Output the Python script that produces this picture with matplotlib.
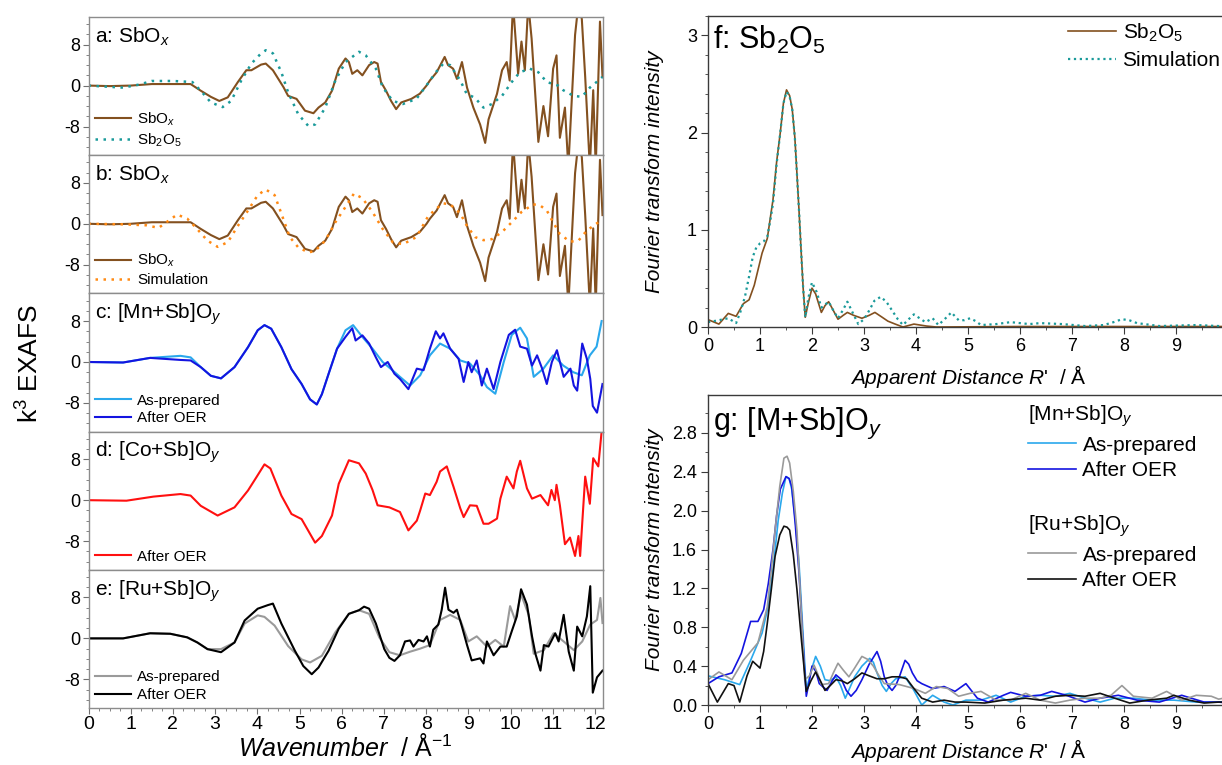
import numpy as np
import matplotlib
matplotlib.use('Agg')
import matplotlib.pyplot as plt
from matplotlib.ticker import MultipleLocator, FormatStrFormatter

plt.rcParams['font.family'] = ['Liberation Sans', 'DejaVu Sans']
plt.rcParams['mathtext.fontset'] = 'custom'
plt.rcParams['mathtext.rm'] = 'Liberation Sans'
plt.rcParams['mathtext.it'] = 'Liberation Sans:italic'
plt.rcParams['mathtext.bf'] = 'Liberation Sans:bold'
plt.rcParams['axes.unicode_minus'] = False

# ---- k-space EXAFS (left panels) ----
k_sbox = [0, 0.5, 1.0, 1.5, 2.0, 2.42, 2.66, 2.9, 3.1, 3.3, 3.54, 3.74, 3.86, 4.09, 4.2, 4.37,
          4.62, 4.73, 4.93, 5.13, 5.33, 5.45, 5.61, 5.77, 5.93, 6.09, 6.17, 6.25, 6.37, 6.49,
          6.65, 6.77, 6.85, 6.93, 7.05, 7.17, 7.29, 7.41, 7.65, 7.85, 8.01, 8.09, 8.25, 8.44,
          8.52, 8.64, 8.73, 8.85, 8.97, 9.12, 9.28, 9.40, 9.48, 9.56, 9.68, 9.80, 9.91, 9.98,
          10.06, 10.18, 10.26, 10.34, 10.42, 10.50, 10.66, 10.78, 10.89, 11.01, 11.09, 11.17,
          11.29, 11.37, 11.53, 11.61, 11.69, 11.77, 11.88, 11.96, 12.02, 12.12, 12.18]
chi_sbox = [0, -0.1, 0, 0.3, 0.3, 0.3, -1.0, -2.2, -3.0, -2.3, 0.7, 3.0, 3.0, 4.1, 4.3, 3.0,
            -0.3, -2.0, -2.6, -4.9, -5.4, -4.3, -3.3, -1.0, 3.3, 5.3, 4.6, 2.3, 3.0, 2.0,
            4.0, 4.6, 4.3, 0.7, -1.0, -3.0, -4.6, -3.3, -2.6, -1.6, 0.0, 1.0, 2.6, 5.6,
            4.0, 3.3, 1.3, 4.6, -0.4, -4.3, -7.6, -11.2, -6.6, -4.6, -1.6, 3.0, 4.6, 1.0,
            16, 2.3, 8.6, 3.0, 16, 9.2, -11.0, -4.0, -9.9, 3.3, 5.9, -10.2,
            -4.3, -16, 9.9, 16, 13.0, 1.7, -16, -0.9, -16, 12.5, 1.7]

k_sb2o5 = [0, 0.82, 1.2, 1.5, 2.0, 2.46, 2.66, 2.9, 3.18, 3.38, 3.62, 3.86, 4.09, 4.2, 4.37,
           4.57, 4.73, 4.97, 5.21, 5.37, 5.61, 5.85, 6.09, 6.41, 6.57, 6.81, 6.97, 7.21, 7.45,
           7.77, 8.05, 8.25, 8.41, 8.57, 8.81, 8.96, 9.16, 9.36, 9.56, 9.80, 10.03, 10.22,
           10.46, 10.66, 10.86, 11.13, 11.25, 11.49, 11.69, 11.88, 12.04, 12.18]
chi_sb2o5 = [0, -0.4, 0.2, 0.9, 0.9, 0.7, -1.0, -3.3, -4.2, -3.0, 1.0, 4.3, 6.3, 6.9, 6.3,
             2.6, -1.3, -5.6, -7.9, -7.6, -4.3, 1.0, 4.6, 6.6, 5.9, 3.3, -0.3, -3.0, -3.6,
             -2.6, 0.5, 2.8, 4.3, 4.0, 1.0, -1.6, -2.4, -4.3, -3.6, -2.0, 0.7, 2.6,
             3.3, 2.6, 0.7, 0.0, -0.9, -2.0, -2.2, -0.4, 0.7, 1.7]

k_sim = [0, 0.82, 1.38, 1.66, 2.1, 2.34, 2.54, 2.82, 3.06, 3.3, 3.54, 3.78, 4.01, 4.2, 4.41,
         4.57, 4.77, 4.97, 5.21, 5.37, 5.61, 5.85, 6.09, 6.29, 6.49, 6.73, 6.97, 7.21, 7.45,
         7.77, 8.05, 8.25, 8.40, 8.57, 8.81, 8.96, 9.16, 9.36, 9.56, 9.80, 10.03, 10.26,
         10.54, 10.70, 10.86, 11.01, 11.17, 11.41, 11.61, 11.80, 11.96, 12.12]
chi_sim = [0, -0.1, -0.3, -0.8, 1.8, 1.0, -0.7, -3.3, -4.5, -3.6, -0.4, 2.6, 5.6, 6.7, 5.6,
           2.0, -2.6, -4.6, -5.6, -5.3, -3.3, 0.3, 3.3, 5.9, 5.0, 2.3, -1.0, -3.6, -4.0,
           -2.6, 1.5, 3.0, 4.0, 3.8, 2.0, -0.3, -2.6, -3.2, -3.0, -1.6, 0.3, 2.3,
           3.8, 3.6, 2.6, 0.3, -2.0, -3.5, -3.3, -1.4, -0.4, 0.5]

k_mn_prep = [0, 0.82, 1.46, 2.18, 2.42, 2.66, 2.9, 3.14, 3.46, 3.78, 4.01, 4.17, 4.33, 4.57,
             4.81, 5.05, 5.25, 5.41, 5.53, 5.69, 5.89, 6.09, 6.27, 6.49, 6.73, 6.97, 7.2,
             7.38, 7.62, 7.86, 8.09, 8.33, 8.57, 8.81, 9.04, 9.28, 9.44, 9.64, 9.84, 10.03,
             10.23, 10.39, 10.55, 10.78, 11.01, 11.25, 11.49, 11.69, 11.88, 12.04, 12.16]
chi_mn_prep = [0, -0.1, 0.8, 1.2, 0.9, -1.0, -2.7, -3.2, -1.0, 2.9, 6.2, 7.2, 6.5, 2.9,
               -1.4, -4.3, -7.3, -8.3, -6.3, -2.3, 2.6, 6.2, 7.2, 4.9, 2.6, 0.0, -1.6,
               -2.9, -4.6, -2.6, 1.3, 3.6, 2.6, 0.3, -0.3, -2.6, -4.9, -6.2, 0.0, 5.3,
               6.7, 4.6, -2.9, -1.3, 1.3, -0.7, -2.0, -2.6, 1.3, 3.0, 8.0]

k_mn_oer = [0, 0.82, 1.46, 2.18, 2.42, 2.66, 2.9, 3.14, 3.46, 3.78, 4.01, 4.17, 4.33, 4.57,
            4.81, 5.05, 5.25, 5.41, 5.53, 5.69, 5.89, 6.09, 6.25, 6.33, 6.49, 6.65, 6.81,
            6.93, 7.09, 7.25, 7.38, 7.58, 7.78, 7.94, 8.09, 8.23, 8.33, 8.41, 8.57, 8.77,
            8.89, 9.0, 9.08, 9.2, 9.32, 9.44, 9.6, 9.76, 9.96, 10.11, 10.23, 10.39, 10.51,
            10.63, 10.75, 10.86, 10.98, 11.1, 11.26, 11.42, 11.5, 11.58, 11.7, 11.81, 11.89,
            11.95, 12.05, 12.18]
chi_mn_oer = [0, -0.1, 0.8, 0.4, 0.3, -1.0, -2.7, -3.2, -1.0, 2.9, 6.2, 7.2, 6.5, 2.9,
              -1.4, -4.3, -7.3, -8.3, -6.3, -2.3, 2.6, 4.9, 6.6, 4.2, 5.2, 3.6, 0.9,
              -1.0, 0.0, -2.3, -3.3, -5.3, -1.3, -1.6, 2.6, 6.0, 4.6, 5.6, 2.6, 0.6,
              -3.9, 0.0, -2.0, 0.3, -4.6, -1.3, -5.3, 0.0, 5.3, 6.3, 3.0, 2.6, -0.7,
              1.3, -1.3, -4.3, 0.0, 2.3, -2.9, -1.3, -4.6, -5.6, 3.6, 0.6, -3.3,
              -8.6, -9.9, -4.3]

k_co_oer = [0, 0.9, 1.54, 2.18, 2.42, 2.66, 3.06, 3.46, 3.78, 3.98, 4.17, 4.31, 4.57, 4.81,
            5.05, 5.37, 5.53, 5.77, 5.93, 6.17, 6.41, 6.57, 6.73, 6.85, 7.13, 7.38, 7.58,
            7.78, 7.86, 7.98, 8.09, 8.25, 8.33, 8.49, 8.65, 8.81, 8.89, 9.04, 9.2, 9.36,
            9.48, 9.68, 9.76, 9.91, 10.07, 10.15, 10.23, 10.39, 10.51, 10.71, 10.89, 10.97,
            11.05, 11.09, 11.17, 11.29, 11.41, 11.53, 11.61, 11.65, 11.77, 11.88, 11.96,
            12.08, 12.16]
chi_co_oer = [0, -0.1, 0.7, 1.2, 0.9, -1.1, -3.0, -1.4, 1.9, 4.5, 7.0, 6.2, 0.9, -2.7,
              -3.7, -8.3, -7.0, -3.0, 3.2, 7.8, 7.2, 5.2, 2.0, -1.0, -1.4, -2.3, -5.9,
              -4.0, -2.0, 1.3, 1.0, 3.6, 5.6, 6.6, 2.6, -1.6, -3.3, -1.0, -1.1, -4.6,
              -4.6, -3.6, 0.3, 4.6, 2.3, 5.6, 7.7, 2.3, 0.3, 1.0, -1.0, 2.0,
              0.0, 3.0, -1.0, -8.6, -7.3, -10.9, -7.0, -10.9, 4.6, -0.7, 8.2,
              6.6, 13.5]

k_ru_prep = [0, 0.82, 1.46, 1.94, 2.34, 2.58, 2.82, 3.14, 3.46, 3.7, 4.01, 4.17, 4.41, 4.73,
             5.05, 5.25, 5.53, 5.85, 6.17, 6.41, 6.65, 6.89, 7.13, 7.38, 7.62, 7.86, 8.09,
             8.33, 8.57, 8.81, 9.0, 9.2, 9.44, 9.64, 9.84, 9.99, 10.11, 10.25, 10.43, 10.55,
             10.79, 11.02, 11.26, 11.5, 11.7, 11.89, 12.05, 12.13, 12.18]
chi_ru_prep = [0, 0, 1.0, 0.9, 0.2, -0.8, -2.1, -2.1, -0.8, 2.9, 4.5, 4.2, 2.5, -1.5,
               -4.1, -4.7, -3.4, 1.2, 4.8, 5.5, 4.8, 0.2, -2.7, -3.3, -2.6, -2.0, -1.3,
               3.6, 4.6, 3.6, -0.6, 0.4, -1.6, -0.3, -1.6, 6.3, 3.6, 8.6, 4.6, -3.0,
               -2.3, 1.0, -0.6, -2.3, -0.6, 2.7, 3.6, 7.9, 3.0]

k_ru_oer = [0, 0.82, 1.46, 1.94, 2.34, 2.58, 2.82, 3.14, 3.46, 3.7, 4.01, 4.25, 4.37, 4.57,
            4.89, 5.09, 5.29, 5.45, 5.69, 5.93, 6.17, 6.41, 6.53, 6.65, 6.81, 7.01, 7.13,
            7.25, 7.38, 7.5, 7.62, 7.7, 7.82, 7.94, 8.02, 8.09, 8.17, 8.29, 8.37, 8.45,
            8.53, 8.65, 8.73, 8.85, 8.97, 9.08, 9.28, 9.36, 9.44, 9.6, 9.76, 9.91, 10.03,
            10.15, 10.25, 10.39, 10.51, 10.59, 10.71, 10.79, 10.9, 11.06, 11.14, 11.26,
            11.38, 11.5, 11.58, 11.7, 11.81, 11.89, 11.95, 12.05, 12.18]
chi_ru_oer = [0, 0, 1.0, 0.9, 0.2, -0.8, -2.1, -2.7, -0.8, 3.5, 5.8, 6.5, 6.8, 2.9,
              -2.4, -5.4, -7.0, -5.7, -2.4, 1.9, 4.8, 5.5, 6.2, 5.8, 2.9, -2.1, -3.8,
              -4.4, -3.3, -0.6, -0.4, -1.6, -0.3, -0.6, 0.4, -1.6, 1.7, 2.7, 5.6, 9.9,
              5.6, 5.0, 5.6, 2.3, -1.3, -4.3, -3.9, -4.9, -0.6, -3.3, -1.6, -1.6, 1.4,
              4.3, 9.6, 6.6, 0.4, -3.0, -6.3, -1.3, -1.6, 1.0, -0.6, 4.6,
              -2.6, -6.3, 2.3, 0.4, 4.3, 10.2, -10.6, -7.6, -6.3]

# ---- Fourier transforms (right panels) ----
r_f_meas = [0, 0.21, 0.39, 0.54, 0.68, 0.79, 0.89, 1.04, 1.14, 1.25, 1.32, 1.39, 1.45, 1.51,
            1.57, 1.62, 1.67, 1.71, 1.75, 1.79, 1.83, 1.87, 1.93, 2.0, 2.07, 2.18, 2.25, 2.32,
            2.4, 2.5, 2.6, 2.68, 2.8, 2.96, 3.1, 3.21, 3.35, 3.46, 3.6, 3.75, 3.96, 4.2, 4.39,
            6.0, 8.0, 10.0]
ft_f_meas = [0.076, 0.03, 0.14, 0.11, 0.24, 0.28, 0.43, 0.76, 0.91, 1.31, 1.7, 2.0, 2.3, 2.44,
             2.38, 2.24, 1.95, 1.58, 1.2, 0.79, 0.4, 0.10, 0.25, 0.40, 0.34, 0.15, 0.22, 0.26,
             0.18, 0.08, 0.12, 0.15, 0.12, 0.09, 0.12, 0.15, 0.10, 0.06, 0.03, 0.0, 0.03, 0.01,
             0.0, 0.005, 0.005, 0.005]

r_f_sim = [0, 0.21, 0.39, 0.54, 0.62, 0.71, 0.79, 0.86, 0.93, 1.0, 1.07, 1.14, 1.2, 1.25, 1.32,
           1.39, 1.45, 1.51, 1.57, 1.62, 1.67, 1.71, 1.75, 1.79, 1.83, 1.87, 1.93, 2.0, 2.09,
           2.18, 2.25, 2.32, 2.41, 2.5, 2.59, 2.68, 2.78, 2.89, 3.0, 3.1, 3.2, 3.32, 3.43,
           3.54, 3.65, 3.75, 3.86, 3.96, 4.07, 4.18, 4.32, 4.43, 4.55, 4.68, 4.82, 4.93, 5.04,
           5.15, 5.25, 5.54, 5.82, 6.18, 6.39, 6.82, 7.25, 7.61, 7.8, 7.96, 8.1, 8.25, 8.68,
           9.39, 9.82, 10.0]
ft_f_sim = [0.05, 0.07, 0.09, 0.04, 0.15, 0.31, 0.52, 0.72, 0.82, 0.86, 0.88, 0.93, 1.1, 1.27,
            1.68, 2.0, 2.3, 2.42, 2.37, 2.24, 1.95, 1.58, 1.2, 0.79, 0.4, 0.1, 0.3, 0.46, 0.36,
            0.2, 0.23, 0.26, 0.17, 0.09, 0.17, 0.26, 0.15, 0.03, 0.08, 0.17, 0.27, 0.31, 0.26,
            0.17, 0.08, 0.02, 0.08, 0.13, 0.09, 0.05, 0.09, 0.02, 0.08, 0.15, 0.07, 0.07, 0.09,
            0.06, 0.02, 0.03, 0.05, 0.03, 0.04, 0.03, 0.01, 0.02, 0.05, 0.08, 0.07, 0.04, 0.01,
            0.02, 0.01, 0.01]

r_mn_prep = [0, 0.32, 0.61, 0.82, 1.04, 1.15, 1.25, 1.35, 1.43, 1.5, 1.56, 1.61, 1.68, 1.75,
             1.82, 1.89, 1.98, 2.07, 2.16, 2.25, 2.35, 2.46, 2.55, 2.64, 2.73, 2.82, 2.96,
             3.11, 3.18, 3.25, 3.35, 3.43, 3.52, 3.61, 3.79, 3.96, 4.11, 4.32, 4.54, 4.71,
             4.96, 5.25, 5.54, 5.82, 6.11, 6.39, 6.68, 6.96, 7.25, 7.54, 7.82, 8.18, 8.54,
             8.96, 9.39, 9.82, 10.0]
ft_mn_prep = [0.30, 0.26, 0.21, 0.46, 0.74, 1.0, 1.39, 1.9, 2.18, 2.35, 2.33, 2.22, 1.9, 1.46,
              0.8, 0.15, 0.35, 0.5, 0.4, 0.26, 0.25, 0.29, 0.2, 0.07, 0.18, 0.29, 0.4,
              0.48, 0.44, 0.33, 0.2, 0.14, 0.22, 0.27, 0.29, 0.15, 0.0, 0.10, 0.03, 0.0,
              0.05, 0.05, 0.1, 0.03, 0.09, 0.1, 0.09, 0.12, 0.07, 0.03, 0.07, 0.07, 0.05,
              0.05, 0.03, 0.03, 0.04]

r_mn_oer = [0, 0.21, 0.46, 0.64, 0.82, 0.96, 1.07, 1.16, 1.25, 1.32, 1.39, 1.5, 1.56, 1.61,
            1.68, 1.75, 1.82, 1.89, 1.95, 2.0, 2.07, 2.14, 2.29, 2.38, 2.46, 2.57, 2.66,
            2.75, 2.85, 2.96, 3.1, 3.25, 3.32, 3.39, 3.46, 3.54, 3.61, 3.68, 3.79, 3.86,
            3.93, 4.02, 4.11, 4.32, 4.54, 4.75, 4.96, 5.18, 5.39, 5.68, 5.82, 6.11, 6.39,
            6.61, 6.89, 7.25, 7.54, 7.89, 8.25, 8.68, 9.11, 9.54, 9.82, 10.0]
ft_mn_oer = [0.22, 0.29, 0.33, 0.53, 0.86, 0.86, 0.98, 1.25, 1.6, 1.95, 2.22, 2.35, 2.33, 2.25,
             1.85, 1.36, 0.7, 0.09, 0.25, 0.4, 0.35, 0.22, 0.15, 0.24, 0.31, 0.26, 0.15,
             0.09, 0.15, 0.26, 0.42, 0.55, 0.45, 0.29, 0.2, 0.15, 0.2, 0.29, 0.46, 0.42,
             0.33, 0.25, 0.22, 0.17, 0.19, 0.14, 0.22, 0.07, 0.03, 0.1, 0.13, 0.09, 0.1,
             0.14, 0.1, 0.03, 0.07, 0.1, 0.05, 0.03, 0.1, 0.03, 0.03, 0.02]

r_ru_prep = [0, 0.21, 0.46, 0.68, 0.96, 1.14, 1.22, 1.29, 1.38, 1.46, 1.52, 1.57, 1.64, 1.71,
             1.79, 1.86, 1.95, 2.04, 2.11, 2.18, 2.32, 2.41, 2.5, 2.6, 2.71, 2.82, 2.96, 3.07,
             3.18, 3.29, 3.39, 3.68, 3.96, 4.18, 4.39, 4.61, 4.82, 5.04, 5.25, 5.54, 5.82,
             6.11, 6.39, 6.68, 6.96, 7.25, 7.54, 7.75, 7.96, 8.18, 8.54, 8.82, 9.11, 9.39,
             9.68, 9.82, 10.0]
ft_ru_prep = [0.26, 0.34, 0.26, 0.46, 0.64, 1.01, 1.4, 1.8, 2.25, 2.54, 2.56, 2.49, 2.2, 1.8,
              1.0, 0.26, 0.3, 0.41, 0.32, 0.21, 0.22, 0.33, 0.43, 0.36, 0.29, 0.38, 0.5, 0.47,
              0.4, 0.3, 0.22, 0.21, 0.17, 0.12, 0.19, 0.17, 0.09, 0.12, 0.14, 0.05, 0.05,
              0.12, 0.05, 0.02, 0.05, 0.07, 0.07, 0.1, 0.2, 0.09, 0.07, 0.14, 0.05, 0.1,
              0.09, 0.06, 0.08]

r_ru_oer = [0, 0.18, 0.39, 0.5, 0.61, 0.75, 0.86, 1.0, 1.07, 1.14, 1.22, 1.29, 1.38, 1.46, 1.52,
            1.57, 1.64, 1.71, 1.8, 1.89, 1.98, 2.07, 2.16, 2.25, 2.35, 2.46, 2.57, 2.68, 2.82,
            2.96, 3.1, 3.25, 3.39, 3.54, 3.68, 3.82, 3.96, 4.11, 4.32, 4.54, 4.75, 4.96, 5.32,
            5.68, 6.11, 6.39, 6.68, 6.96, 7.25, 7.54, 7.82, 8.11, 8.46, 8.82, 8.96, 9.25, 9.54,
            9.82, 10.0]
ft_ru_oer = [0.22, 0.03, 0.22, 0.2, 0.03, 0.3, 0.45, 0.38, 0.55, 0.84, 1.2, 1.53, 1.75, 1.84,
             1.83, 1.8, 1.55, 1.19, 0.65, 0.14, 0.25, 0.34, 0.25, 0.15, 0.2, 0.26, 0.25, 0.22,
             0.27, 0.33, 0.3, 0.27, 0.27, 0.29, 0.29, 0.27, 0.17, 0.07, 0.03, 0.05, 0.03, 0.03,
             0.02, 0.05, 0.07, 0.05, 0.09, 0.1, 0.09, 0.12, 0.07, 0.02, 0.05, 0.07, 0.1, 0.05,
             0.02, 0.03, 0.03]

BROWN = '#83501f'
TEAL = '#1a9a9a'
ORANGE = '#ff8a14'
LBLUE = '#2aa8ec'
DBLUE = '#1414e0'
RED = '#ff1010'
GRAY = '#9a9a9a'
BLACK = '#000000'
DOTS = (0, (1, 2.2))

W, H = 1222, 765
fig = plt.figure(figsize=(W / 100, H / 100), dpi=100)


def px_axes(x0, y0, x1, y1):
    return fig.add_axes([x0 / W, 1 - y1 / H, (x1 - x0) / W, (y1 - y0) / H])


# ---------- left column ----------
left_x0, left_x1 = 88.5, 602.5
top0, ph = 17.0, 138.2
panels = [
    ('a: SbO$_x$', [(k_sbox, chi_sbox, BROWN, '-', 'SbO$_x$'),
                    (k_sb2o5, chi_sb2o5, TEAL, DOTS, 'Sb$_2$O$_5$')]),
    ('b: SbO$_x$', [(k_sbox, chi_sbox, BROWN, '-', 'SbO$_x$'),
                    (k_sim, chi_sim, ORANGE, DOTS, 'Simulation')]),
    ('c: [Mn+Sb]O$_y$', [(k_mn_prep, chi_mn_prep, LBLUE, '-', 'As-prepared'),
                         (k_mn_oer, chi_mn_oer, DBLUE, '-', 'After OER')]),
    ('d: [Co+Sb]O$_y$', [(k_co_oer, chi_co_oer, RED, '-', 'After OER')]),
    ('e: [Ru+Sb]O$_y$', [(k_ru_prep, chi_ru_prep, GRAY, '-', 'As-prepared'),
                         (k_ru_oer, chi_ru_oer, BLACK, '-', 'After OER')]),
]

for i, (title, curves) in enumerate(panels):
    ax = px_axes(left_x0, top0 + i * ph, left_x1, top0 + (i + 1) * ph)
    for kk, yy, col, ls, lab in curves:
        lw = 1.8 if ls is DOTS else 1.5
        ax.plot(kk, yy, color=col, linestyle=ls, lw=lw, label=lab)
    ax.set_xlim(0, 12.18)
    ax.set_ylim(-13.6, 13.4)
    ax.set_yticks([-8, 0, 8])
    ax.yaxis.set_minor_locator(MultipleLocator(2))
    ax.set_xticks(range(0, 13))
    ax.xaxis.set_minor_locator(MultipleLocator(0.25))
    for s in ax.spines.values():
        s.set_color('#8c8c8c')
        s.set_linewidth(1.0)
    ax.tick_params(which='both', direction='out', color='#707070', top=False, right=False)
    ax.tick_params(which='major', length=4, width=0.8, labelsize=13, pad=2)
    ax.tick_params(which='minor', length=2, width=0.6)
    ax.tick_params(axis='x', labelbottom=(i == 4), labelsize=14)
    ax.text(0.013, 0.94, title, transform=ax.transAxes, fontsize=15, va='top', ha='left')
    ax.legend(loc='lower left', frameon=False, fontsize=11, handlelength=2.4,
              handletextpad=0.4, labelspacing=0.25, borderpad=0.3, borderaxespad=0.1)

fig.text(30 / W, 1 - 364 / H, 'k$^3$ EXAFS', rotation=90, ha='center', va='center', fontsize=19)
fig.text(345 / W, 1 - 747 / H, r'$\mathit{Wavenumber}$  / Å$^{-1}$', ha='center', va='center',
         fontsize=18)

# ---------- right column ----------
rx0, rx1 = 708, 1228


def style_right(ax):
    ax.set_xlim(0, 10)
    ax.set_xticks(np.arange(0, 10))
    ax.xaxis.set_minor_locator(MultipleLocator(0.5))
    ax.yaxis.set_minor_locator(MultipleLocator(0.2))
    for s in ax.spines.values():
        s.set_color('#3a3a3a')
        s.set_linewidth(1.0)
    ax.tick_params(which='both', direction='out', color='#3a3a3a', top=False, right=False)
    ax.tick_params(which='major', length=5, width=0.8, labelsize=13, pad=3)
    ax.tick_params(which='minor', length=2.5, width=0.6)


axf = px_axes(rx0, 16, rx1, 327)
axf.plot(r_f_meas, ft_f_meas, color=BROWN, lw=1.2, label='Sb$_2$O$_5$')
axf.plot(r_f_sim, ft_f_sim, color=TEAL, lw=1.6, linestyle=':', label='Simulation')
axf.set_ylim(0, 3.2)
axf.set_yticks([0, 1, 2, 3])
style_right(axf)
axf.text(0.01, 0.975, 'f: Sb$_2$O$_5$', transform=axf.transAxes, fontsize=22, va='top', ha='left')
axf.legend(loc='upper left', bbox_to_anchor=(0.685, 0.995), frameon=False, fontsize=15,
           handlelength=2.3, handletextpad=0.3, labelspacing=0.35, borderpad=0.2,
           borderaxespad=0)

axg = px_axes(rx0, 395, rx1, 705)
l1, = axg.plot(r_mn_prep, ft_mn_prep, color=LBLUE, lw=1.2, label='As-prepared')
l2, = axg.plot(r_mn_oer, ft_mn_oer, color=DBLUE, lw=1.2, label='After OER')
l3, = axg.plot(r_ru_prep, ft_ru_prep, color=GRAY, lw=1.2, label='As-prepared')
l4, = axg.plot(r_ru_oer, ft_ru_oer, color='#111111', lw=1.2, label='After OER')
axg.set_ylim(0, 3.19)
axg.set_yticks(np.arange(0, 2.81, 0.4))
axg.yaxis.set_major_formatter(FormatStrFormatter('%.1f'))
style_right(axg)
axg.text(0.01, 0.965, 'g: [M+Sb]O$_y$', transform=axg.transAxes, fontsize=22, va='top', ha='left')
leg1 = axg.legend(handles=[l1, l2], title='[Mn+Sb]O$_y$', loc='upper left',
                  bbox_to_anchor=(0.608, 0.985), frameon=False, fontsize=15, title_fontsize=15,
                  alignment='left', handlelength=2.3, handletextpad=0.3, labelspacing=0.3,
                  borderpad=0.2, borderaxespad=0)
axg.add_artist(leg1)
axg.legend(handles=[l3, l4], title='[Ru+Sb]O$_y$', loc='upper left',
           bbox_to_anchor=(0.608, 0.63), frameon=False, fontsize=15, title_fontsize=15,
           alignment='left', handlelength=2.3, handletextpad=0.3, labelspacing=0.3,
           borderpad=0.2, borderaxespad=0)

for yc in (171.5, 550):
    fig.text(655 / W, 1 - yc / H, 'Fourier transform intensity', rotation=90, ha='center',
             va='center', fontsize=15, style='italic')
for yc in (376, 750):
    fig.text(968 / W, 1 - yc / H, r"$\mathit{Apparent\ Distance\ R}$'  / Å", ha='center',
             va='center', fontsize=15)

fig.savefig('out.png', dpi=100)
